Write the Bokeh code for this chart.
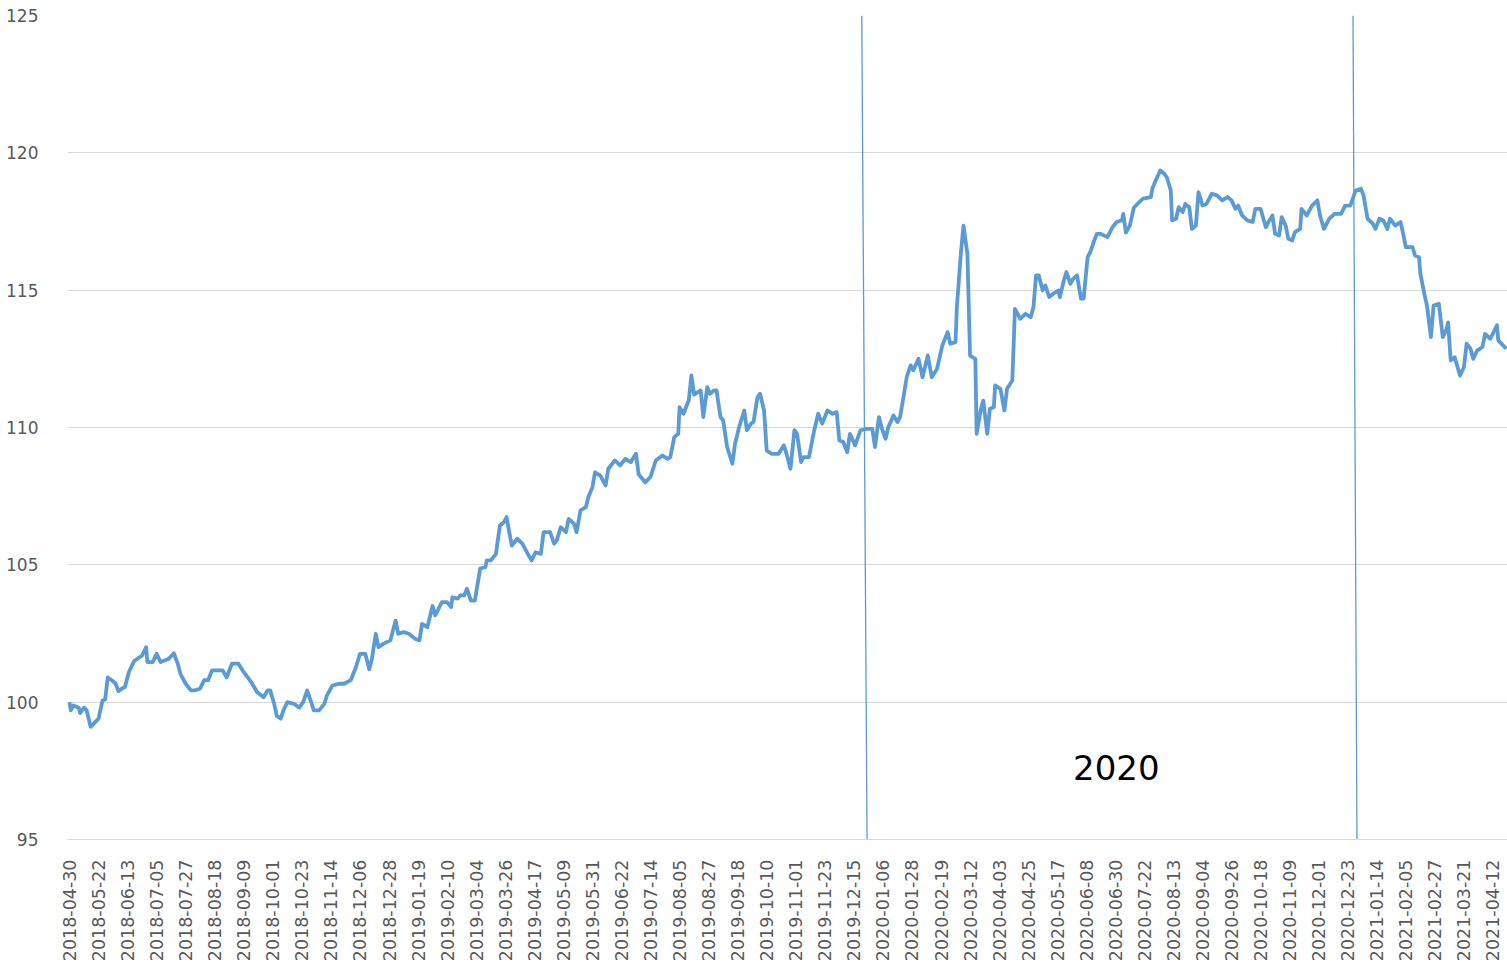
from datetime import datetime, timedelta
from math import pi

from bokeh.plotting import figure
from bokeh.models import Range1d, FixedTicker, DatetimeTickFormatter, Label, ColumnDataSource
from bokeh.embed import file_html
from bokeh.resources import INLINE

# ---------------- data ----------------
start_date = "2018-04-30"

day_offsets = [
    0, 1, 3, 7, 8, 11, 13, 16, 20, 22, 25, 27, 29, 32, 35, 37, 40, 42, 45, 49,
    52, 55, 58, 59, 63, 66, 69, 71, 75, 79, 82, 84, 88, 92, 95, 99, 102, 105, 108, 112,
    116, 119, 123, 128, 131, 135, 138, 142, 147, 150, 152, 155, 157, 160, 162, 165, 170, 174, 177, 180,
    183, 185, 189, 193, 195, 199, 204, 208, 213, 217, 220, 224, 227, 229, 232, 234, 238, 243, 247, 249,
    253, 257, 262, 265, 267, 271, 275, 277, 282, 286, 289, 290, 294, 296, 299, 301, 304, 307, 311, 315,
    316, 319, 323, 324, 326, 329, 331, 333, 335, 339, 343, 347, 350, 353, 357, 359, 364, 367, 369, 372,
    376, 378, 382, 384, 387, 391, 393, 396, 398, 402, 406, 408, 413, 417, 421, 425, 429, 431, 436, 440,
    444, 449, 453, 455, 458, 461, 462, 465, 469, 471, 473, 478, 480, 483, 485, 488, 490, 493, 495, 498,
    502, 504, 507, 511, 513, 516, 518, 521, 523, 526, 528, 532, 537, 541, 543, 546, 549, 551, 554, 556,
    560, 564, 567, 570, 574, 578, 581, 583, 586, 589, 591, 595, 599, 604, 608, 610, 613, 615, 618, 620,
    624, 627, 629, 632, 634, 637, 639, 643, 646, 650, 653, 657, 661, 665, 667, 671, 672, 675, 677, 680,
    682, 686, 687, 690, 692, 695, 697, 700, 701, 705, 708, 710, 714, 716, 720, 724, 728, 730, 732, 734,
    737, 739, 742, 745, 749, 750, 753, 755, 758, 760, 763, 766, 768, 771, 773, 776, 778, 781, 786, 790,
    793, 797, 798, 800, 803, 806, 810, 813, 819, 820, 822, 826, 829, 831, 834, 835, 838, 840, 843, 845,
    848, 850, 853, 855, 858, 861, 865, 869, 873, 877, 880, 883, 885, 888, 892, 896, 898, 902, 906, 908,
    911, 913, 916, 918, 921, 923, 926, 928, 932, 933, 937, 941, 945, 947, 950, 954, 958, 963, 966, 970,
    974, 978, 980, 983, 987, 989, 992, 995, 998, 1000, 1004, 1008, 1010, 1012, 1017, 1019, 1022, 1023, 1026, 1028,
    1031, 1033, 1037, 1040, 1043, 1044, 1046, 1049, 1053, 1056, 1058, 1061, 1063, 1066, 1070, 1072, 1076, 1081, 1082, 1088,
]

values = [
    100.0, 99.7, 99.88, 99.8, 99.6, 99.8, 99.7, 99.1, 99.3, 99.4, 100.06, 100.1, 100.9, 100.8, 100.67, 100.4, 100.5, 100.55, 101.1, 101.5,
    101.6, 101.7, 102.0, 101.46, 101.46, 101.76, 101.46, 101.5, 101.57, 101.78, 101.4, 101.03, 100.67, 100.43, 100.43, 100.5, 100.8, 100.8, 101.16, 101.16,
    101.16, 100.9, 101.4, 101.4, 101.16, 100.9, 100.7, 100.37, 100.18, 100.43, 100.43, 99.94, 99.5, 99.4, 99.7, 100.0, 99.94, 99.8, 100.0, 100.43,
    100.0, 99.7, 99.7, 99.94, 100.25, 100.6, 100.67, 100.67, 100.8, 101.28, 101.76, 101.76, 101.2, 101.57, 102.49, 102.0, 102.13, 102.25, 102.97, 102.49,
    102.55, 102.49, 102.3, 102.25, 102.85, 102.73, 103.5, 103.16, 103.64, 103.64, 103.46, 103.82, 103.77, 103.89, 103.89, 104.13, 103.7, 103.7, 104.86, 104.92,
    105.16, 105.16, 105.4, 105.77, 106.43, 106.55, 106.74, 106.2, 105.7, 105.95, 105.77, 105.4, 105.16, 105.46, 105.4, 106.19, 106.19, 105.77, 105.89, 106.37,
    106.19, 106.67, 106.5, 106.19, 106.98, 107.1, 107.47, 107.83, 108.37, 108.25, 107.89, 108.5, 108.8, 108.62, 108.86, 108.74, 109.04, 108.3, 108.0, 108.2,
    108.8, 108.98, 108.86, 108.92, 109.65, 109.77, 110.74, 110.5, 111.0, 111.9, 111.2, 111.35, 110.38, 111.47, 111.23, 111.35, 111.35, 110.38, 110.26, 109.29,
    108.68, 109.4, 110.0, 110.62, 109.9, 110.14, 110.2, 111.1, 111.23, 110.62, 109.16, 109.04, 109.04, 109.35, 109.04, 108.5, 109.9, 109.77, 108.74, 108.92,
    108.92, 109.9, 110.5, 110.14, 110.62, 110.5, 110.56, 109.53, 109.47, 109.1, 109.77, 109.35, 109.9, 109.95, 109.95, 109.29, 110.38, 110.0, 109.59, 110.0,
    110.44, 110.2, 110.38, 111.23, 111.83, 112.26, 112.08, 112.5, 111.83, 112.62, 111.83, 112.14, 112.99, 113.47, 113.05, 113.11, 114.38, 116.32, 117.35, 116.32,
    112.62, 112.5, 109.77, 110.62, 110.98, 109.77, 110.68, 110.74, 111.53, 111.41, 110.62, 111.41, 111.71, 114.32, 113.96, 114.14, 114.02, 114.38, 115.54, 115.54,
    114.99, 115.17, 114.75, 114.87, 114.99, 114.75, 115.35, 115.66, 115.23, 115.41, 115.54, 114.69, 114.69, 116.2, 116.38, 116.8, 117.05, 117.05, 116.93, 117.3,
    117.48, 117.54, 117.78, 117.1, 117.35, 118.0, 118.2, 118.33, 118.39, 118.69, 118.93, 119.36, 119.24, 119.11, 118.63, 117.54, 117.6, 118.02, 117.84, 118.14,
    118.02, 117.23, 117.35, 118.57, 118.08, 118.14, 118.51, 118.45, 118.27, 118.39, 118.27, 117.96, 118.08, 117.72, 117.54, 117.48, 117.96, 117.96, 117.29, 117.48,
    117.72, 117.05, 116.99, 117.66, 117.35, 116.87, 116.81, 117.11, 117.23, 117.96, 117.72, 118.08, 118.27, 117.72, 117.23, 117.6, 117.78, 117.78, 118.08, 118.08,
    118.63, 118.69, 118.45, 117.6, 117.42, 117.23, 117.6, 117.54, 117.23, 117.6, 117.35, 117.48, 117.05, 116.57, 116.57, 116.26, 116.2, 115.6, 114.87, 114.44,
    113.29, 114.44, 114.5, 113.29, 113.6, 113.83, 112.44, 112.56, 111.89, 112.2, 113.05, 112.87, 112.5, 112.8, 112.93, 113.41, 113.23, 113.72, 113.17, 112.87,
]

tick_step_days = 22
tick_count = 50
y_ticks = [95, 100, 105, 110, 115, 120, 125]

# vertical marker lines: (date at top, date at bottom)
marker_top_dates = ["2019-12-21", "2020-12-27"]
marker_bottom_dates = ["2019-12-25", "2020-12-30"]

annotation_text = "2020"
annotation_date = "2020-05-29"
annotation_value = 97.62

view_start_offset = -1.5
view_end_offset = 1089

# ---------------- build ----------------
start = datetime.strptime(start_date, "%Y-%m-%d")
dates = [start + timedelta(days=d) for d in day_offsets]
EPOCH = datetime(1970, 1, 1)


def ms(dt):
    return (dt - EPOCH).total_seconds() * 1000.0


def parse(s):
    return datetime.strptime(s, "%Y-%m-%d")


tick_ms = [ms(start + timedelta(days=tick_step_days * i)) for i in range(tick_count)]

p = figure(
    width=1507, height=965,
    x_axis_type="datetime",
    x_range=Range1d(start + timedelta(days=view_start_offset), start + timedelta(days=view_end_offset)),
    y_range=Range1d(y_ticks[0], y_ticks[-1]),
    output_backend="svg", toolbar_location=None,
    min_border_left=67, min_border_right=0, min_border_top=15, min_border_bottom=126,
    background_fill_color="white", border_fill_color="white",
)
p.outline_line_color = None

label_font = "DejaVu Sans"
label_color = "#595959"

# y axis
p.yaxis.ticker = FixedTicker(ticks=y_ticks)
p.yaxis.axis_line_color = None
p.yaxis.major_tick_line_color = None
p.yaxis.minor_tick_line_color = None
p.yaxis.major_label_text_font = label_font
p.yaxis.major_label_text_font_size = "17px"
p.yaxis.major_label_text_color = label_color
p.yaxis.major_label_standoff = 23

# x axis
p.xaxis.ticker = FixedTicker(ticks=tick_ms)
fmt = "%Y-%m-%d"
p.xaxis.formatter = DatetimeTickFormatter(
    microseconds=fmt, milliseconds=fmt, seconds=fmt, minsec=fmt, minutes=fmt,
    hourmin=fmt, hours=fmt, days=fmt, months=fmt, years=fmt,
    strip_leading_zeros=False,
)
p.xaxis.major_label_orientation = pi / 2
p.xaxis.axis_line_color = "#D9D9D9"
p.xaxis.major_tick_line_color = None
p.xaxis.minor_tick_line_color = None
p.xaxis.major_label_text_font = label_font
p.xaxis.major_label_text_font_size = "17.5px"
p.xaxis.major_label_text_color = label_color
p.xaxis.major_label_standoff = 14

# grid
p.xgrid.grid_line_color = None
p.ygrid.ticker = FixedTicker(ticks=y_ticks)
p.ygrid.grid_line_color = "#D9D9D9"
p.ygrid.grid_line_width = 1

# series
src = ColumnDataSource(data=dict(date=dates, value=values))
p.line("date", "value", source=src, line_color="#5B9BD5", line_width=3.8, line_join="round")

# vertical marker lines
p.segment(
    x0=[parse(d) for d in marker_top_dates], y0=[y_ticks[-1]] * len(marker_top_dates),
    x1=[parse(d) for d in marker_bottom_dates], y1=[y_ticks[0]] * len(marker_bottom_dates),
    line_color="#5B9BD5", line_width=1.3,
)

# annotation
p.add_layout(Label(
    x=ms(parse(annotation_date)), y=annotation_value, text=annotation_text,
    text_font=label_font, text_font_size="34px", text_color="black",
    text_baseline="alphabetic", text_align="left",
))

open("out.html", "w").write(file_html(p, INLINE))
